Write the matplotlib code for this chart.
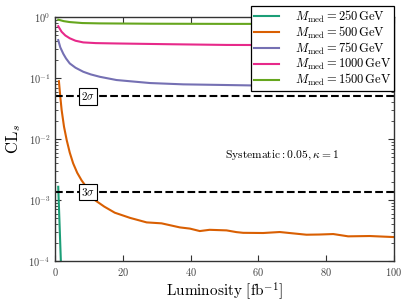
import numpy as np
import matplotlib
matplotlib.use("Agg")
import matplotlib.pyplot as plt

plt.rcParams["mathtext.fontset"] = "cm"
plt.rcParams["font.family"] = "serif"
plt.rcParams["font.serif"] = ["cmr10", "DejaVu Serif"]
plt.rcParams["axes.formatter.use_mathtext"] = True

# Values
lumi_250 = [0.9, 2.0]
cls_250 = [1.65e-3, 3e-5]

lumi_500 = [1.1, 1.5, 1.9, 2.6, 3.4, 4.3, 5.3, 6.5, 7.8, 10.2, 11.7, 14.5,
            17.6, 22.1, 27.0, 31.4, 36.8, 39.8, 42.7, 45.6, 50.6, 53.5, 55.5,
            61.4, 66.3, 70.0, 74.2, 78.0, 82.1, 86.5, 92.9, 100.0]
cls_500 = [8.9e-2, 5.0e-2, 3.0e-2, 1.6e-2, 9.6e-3, 6.0e-3, 4.0e-3, 2.8e-3,
           2.1e-3, 1.37e-3, 1.0e-3, 7.8e-4, 6.2e-4, 5.1e-4, 4.3e-4, 4.15e-4,
           3.56e-4, 3.4e-4, 3.1e-4, 3.25e-4, 3.18e-4, 2.98e-4, 2.9e-4,
           2.88e-4, 2.99e-4, 2.85e-4, 2.7e-4, 2.72e-4, 2.77e-4, 2.54e-4,
           2.57e-4, 2.47e-4]

lumi_750 = [0.9, 1.5, 2.4, 3.2, 4.3, 6.0, 8.3, 10.5, 13.2, 18.1, 28.0, 37.8,
            50.6, 70.0, 100.0]
cls_750 = [0.42, 0.32, 0.25, 0.21, 0.174, 0.148, 0.127, 0.115, 0.105, 0.093,
           0.083, 0.079, 0.077, 0.074, 0.0705]

lumi_1000 = [0.9, 1.9, 3.0, 4.3, 6.0, 8.3, 12.0, 18.0, 33.0, 50.6, 75.0, 100.0]
cls_1000 = [0.71, 0.575, 0.50, 0.45, 0.41, 0.385, 0.375, 0.37, 0.36, 0.35,
            0.347, 0.344]

lumi_1500 = [0.9, 2.5, 4.3, 8.0, 13.0, 28.0, 50.6, 100.0]
cls_1500 = [0.91, 0.86, 0.83, 0.80, 0.79, 0.78, 0.775, 0.775]

masses = [250, 500, 750, 1000, 1500]
colors = ["#1b9e77", "#d95f02", "#7570b3", "#e7298a", "#66a61e"]

two_sigma = 0.05
three_sigma = 1.35e-3

fig = plt.figure(figsize=(4.15, 3.06), dpi=100)
ax = fig.add_axes([0.133, 0.147, 0.816, 0.797])

curves = [(lumi_250, cls_250), (lumi_500, cls_500), (lumi_750, cls_750),
          (lumi_1000, cls_1000), (lumi_1500, cls_1500)]
for (x, y), m, c in zip(curves, masses, colors):
    ax.plot(x, y, color=c, lw=1.5,
            label=r"$M_{\mathrm{med}} = %d\,\mathrm{GeV}$" % m)

ax.axhline(two_sigma, color="k", ls="--", lw=1.5)
ax.axhline(three_sigma, color="k", ls="--", lw=1.5)
box = dict(boxstyle="square,pad=0.2", fc="white", ec="k", lw=0.8)
ax.text(9.7, two_sigma, r"$2\sigma$", ha="center", va="center", fontsize=8, bbox=box)
ax.text(9.7, three_sigma, r"$3\sigma$", ha="center", va="center", fontsize=8, bbox=box)

ax.text(67, 5.5e-3, r"$\mathrm{Systematic}:0.05,\kappa=1$", ha="center",
        va="center", fontsize=8.3)

ax.set_yscale("log")
ax.set_xlim(0, 100)
ax.set_ylim(1e-4, 1)
ax.set_xticks([0, 20, 40, 60, 80, 100])
ax.tick_params(which="both", direction="in", top=True, right=True,
               labelsize=7.5, colors="#333333", labelcolor="#444444")
ax.tick_params(which="major", length=4)
ax.tick_params(which="minor", length=2)
for s in ax.spines.values():
    s.set_linewidth(1.0)
    s.set_color("#333333")

ax.set_xlabel(r"$\mathrm{Luminosity}\ [\mathrm{fb}^{-1}]$", fontsize=11, labelpad=2)
ax.set_ylabel(r"$\mathrm{CL}_s$", fontsize=12, labelpad=4)

leg = ax.legend(loc="upper right", bbox_to_anchor=(0.949, 0.980),
                bbox_transform=fig.transFigure, borderaxespad=0,
                fontsize=9, labelspacing=0.0, handlelength=2.0,
                handletextpad=1.3, borderpad=0.2, fancybox=False,
                framealpha=1, edgecolor="k")
leg.get_frame().set_linewidth(0.9)

fig.savefig("out.png", dpi=100)
